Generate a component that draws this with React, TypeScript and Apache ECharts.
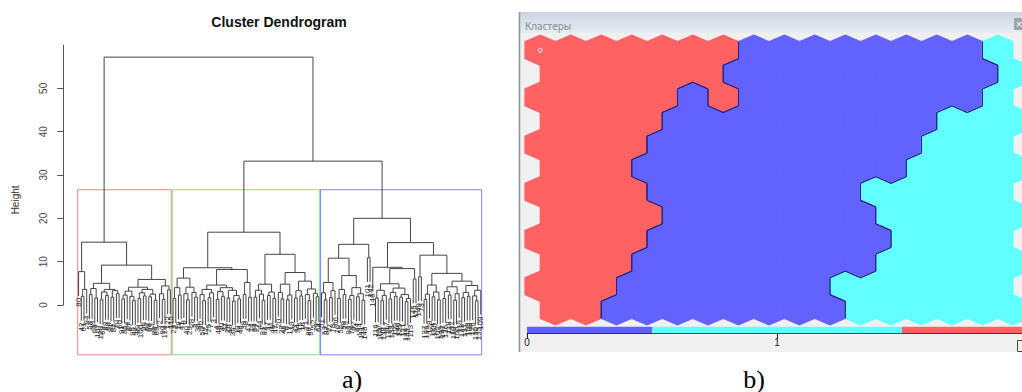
import React, { useEffect, useRef } from "react";
import * as echarts from "echarts";

// ---------- Dendrogram data (left panel) ----------
const chartTitle = "Cluster Dendrogram";
const yAxisName = "Height";
const heightTicks = [0, 10, 20, 30, 40, 50];
const heightAxisMax = 60;
const heightAxisMin = -11.5;
const hangHeight = 5.6;

const join = (a: string, b: string, h: number) => "(" + a + "," + b + ")" + h;

// sub-clusters, Newick-like: (*,*)h = two leaves merged at height h
const redLeft = "(*,((*,*)2.0,*)3.6)7.7";
const redA = "(((*,*)2.4,(*,*)1.6)3.8,(((*,*)1.2,(*,*)2.2)3.0,((*,*)1.8,(*,*)2.6)3.3)3.6)5.0";
const redB1 = "((((*,*)1.4,*)2.3,(*,(*,*)1.0)2.0)3.2,(((*,*)1.5,(*,*)2.1)2.8,((*,*)1.9,(*,*)1.1)2.5)3.6)4.1";
const redB2 = "((*,(*,*)1.3)2.6,(*,*)3.5)4.4";

const greenA1 = "(((*,*)1.5,(*,*)2.3)4.0,((*,(*,*)1.2)2.6,(*,(*,*)1.8)2.9)4.1)6.2";
const greenA2a = "(((*,(*,*)1.0)2.4,((*,*)1.7,*)2.8)3.6,(((*,*)1.3,(*,*)2.0)3.1,((*,*)1.6,((*,*)0.9,(*,*)1.4)2.2)3.4)4.0)4.6";
const greenA2b = "((*,*)2.4,(*,*)1.8)5.2";
const greenB1 = "(((*,*)1.8,(*,(*,*)1.1)2.5)3.4,((*,*)2.2,(*,*)1.5)3.0)4.8";
const greenB2a = "((*,(*,*)1.4)2.9,((*,*)1.2,*)2.3)4.8";
const greenB2b = "(((*,*)1.6,(*,*)2.1)3.3,((*,(*,*)1.0)2.4,(*,(*,*)1.9)2.7)3.7)5.5";

const blueA1a = "((*,(*,*)1.2)2.8,((*,*)1.7,*)3.3)5.2";
const blueA1b = "(((*,*)1.5,(*,*)2.4)3.6,(((*,*)1.3,*)2.2,((*,*)1.9,(*,*)1.1)2.6)4.0)6.8";
const blueA2 = "(*,*)10.9";
const blueB1a = "*";
const blueB1b1 = "(((*,*)1.6,((*,*)1.0,*)2.2)3.4,(((*,*)1.4,(*,*)2.0)2.9,((*,*)1.8,((*,*)0.8,*)1.5)2.4)3.9)4.9";
const blueB1b2 = "(*,*)6.0";
const blueB2a = "(*,*)6.5";
const blueB2b1 = "(((*,*)1.3,*)2.5,((*,*)1.9,(*,*)1.2)3.0)4.6";
const blueB2b2 = "((((*,*)1.5,(*,*)2.3)3.1,((*,*)1.1,*)2.6)4.2,(((*,*)1.7,(*,*)2.0)2.9,((*,(*,*)1.0)2.1,*)3.4)4.5)5.5";

const redTree = join(redLeft, join(redA, join(redB1, redB2, 5.9), 9.2), 14.5);
const greenTree = join(
  join(greenA1, join(greenA2a, greenA2b, 8.2), 8.6),
  join(greenB1, join(greenB2a, greenB2b, 7.5), 11.7),
  16.8
);
const blueTree = join(
  join(join(blueA1a, blueA1b, 10.8), blueA2, 14.0),
  join(join(blueB1a, join(blueB1b1, blueB1b2, 8.4), 8.7), join(blueB2a, join(blueB2b1, blueB2b2, 7.3), 11.5), 14.4),
  20.0
);
const fullTree = join(redTree, join(greenTree, blueTree, 33.2), 57.2);

const redLabels = [80, 42, 61, 94, 58, 99, 63, 107, 120, 69, 88, 54, 81, 82, 70, 60, 91, 85, 56, 67, 95, 97, 89, 100, 96, 62, 68, 83, 93, 65, 72, 90, 114, 122, 115];
const greenLabels = [23, 1, 18, 41, 8, 40, 29, 28, 5, 38, 36, 50, 12, 25, 7, 3, 4, 48, 30, 31, 26, 10, 35, 2, 13, 46, 39, 9, 43, 14, 24, 27, 44, 21, 32, 37, 11, 49, 47, 20, 22, 45, 6, 17, 19, 33, 34, 15, 16, 71, 86, 57, 52, 79, 64];
const blueLabels = [51, 53, 87, 77, 78, 66, 76, 55, 59, 75, 98, 74, 92, 84, 134, 111, 148, 101, 142, 146, 116, 137, 104, 138, 117, 129, 133, 105, 140, 125, 121, 144, 141, 113, 145, 112, 149, 73, 127, 139, 128, 124, 150, 102, 143, 147, 136, 118, 132, 110, 106, 119, 123, 131, 103, 108, 126, 130, 135, 109];
const boxColors = ["#ff7f7f", "#7fdf7f", "#7f7fff"];

// ---------- SOM map data (right panel) ----------
const panelTitle = "Кластеры";
const somRows = [
  "RRRRRRRBBBBBBBBC",
  "RRRRRRBBBBBBBBBC",
  "RRRRRBRBBBBBBBBC",
  "RRRRBBBBBBBBBCCC",
  "RRRRBBBBBBBBBCCC",
  "RRRBBBBBBBBBCCCC",
  "RRRRBBBBBBBCCCCC",
  "RRRRBBBBBBBCCCCC",
  "RRRRBBBBBBBBCCCC",
  "RRRBBBBBBBBCCCCC",
  "RRRBBBBBBBCCCCCC",
  "RRBBBBBBBBCCCCCC",
];
const clusterColors: Record<string, string> = { R: "#ff6262", B: "#6262ff", C: "#62ffff" };
const markedCell = [0, 0];
const scaleSegments: [number, number, string][] = [
  [0, 0.5, "B"],
  [0.5, 1.5, "C"],
  [1.5, 2.5, "R"],
];
const scaleTicks = [0, 1];

// ---------- helpers ----------
function parseTree(s: string) {
  let i = 0;
  const node = (): any => {
    if (s[i] === "(") {
      i++;
      const a = node();
      i++;
      const b = node();
      i++;
      const st = i;
      while (i < s.length && /[0-9.]/.test(s[i])) i++;
      return { h: parseFloat(s.slice(st, i)), kids: [a, b] };
    }
    i++;
    return { leaf: true };
  };
  return node();
}

function buildOption() {
  const root = parseTree(fullTree);
  const segments: number[][] = [];
  const leaves: number[][] = [];
  const heights: number[] = [];
  let n = 0;
  const place = (node: any, parentH: number) => {
    if (node.leaf) {
      n++;
      node.x = n;
      node.y = parentH - hangHeight;
      leaves.push([n, node.y]);
      return;
    }
    const [a, b] = node.kids;
    place(a, node.h);
    place(b, node.h);
    heights.push(node.h);
    node.x = (a.x + b.x) / 2;
    node.y = node.h;
    segments.push([a.x, node.h, b.x, node.h], [a.x, node.h, a.x, a.y], [b.x, node.h, b.x, b.y]);
  };
  place(root, root.h);
  const labels = [...redLabels, ...greenLabels, ...blueLabels];
  const nLeaves = labels.length;
  heights.sort((p, q) => q - p);
  const boxTop = (heights[1] + heights[2]) / 2;
  const sizes = [redLabels.length, greenLabels.length, blueLabels.length];
  const boxes: number[][] = [];
  let acc = 0;
  sizes.forEach((s, k) => {
    boxes.push([acc + 0.66, acc + s + 0.33, boxTop, k]);
    acc += s;
  });

  const hexData: number[][] = [];
  somRows.forEach((row, r) => {
    for (let c = 0; c < row.length; c++) hexData.push([c, r]);
  });
  const nRows = somRows.length;
  const nCols = somRows[0].length;
  const cellAt = (r: number, c: number) => (r < 0 || r >= nRows || c < 0 || c >= nCols ? null : somRows[r][c]);

  const font = "Liberation Sans";
  const unit = 260 / heightAxisMax;
  const hexW = 30.5;
  const hexGridW = 1022 - 525;
  const scaleW = 1022 - 527;
  const scaleUnit = 250;

  return {
    animation: false,
    textStyle: { fontFamily: font },
    grid: [
      { left: 75.9, top: 45, width: (nLeaves + 1) * 2.699, height: (heightAxisMax - heightAxisMin) * unit },
      { left: 63.3, top: 45, width: 10, height: 260 },
      { left: 525, top: 50.2, width: hexGridW, height: 23.6 * (nRows - 1) },
      { left: 527, top: 326.7, width: scaleW, height: 6.6 },
    ],
    xAxis: [
      { gridIndex: 0, type: "value", min: 0, max: nLeaves + 1, show: false },
      { gridIndex: 1, type: "value", min: 0, max: 1, show: false },
      { gridIndex: 2, type: "value", min: 0, max: hexGridW / hexW, show: false },
      {
        gridIndex: 3,
        type: "value",
        min: 0,
        max: scaleW / scaleUnit,
        axisLine: { show: true, lineStyle: { color: "#222", width: 1 } },
        axisTick: { show: true, length: 5, lineStyle: { color: "#222" }, customValues: scaleTicks },
        axisLabel: { color: "#222", fontSize: 10, margin: 4, customValues: scaleTicks },
        splitLine: { show: false },
      },
    ],
    yAxis: [
      {
        gridIndex: 0,
        type: "value",
        min: heightAxisMin,
        max: heightAxisMax,
        axisLine: { show: false },
        axisTick: { show: false },
        axisLabel: { show: false },
        splitLine: { show: false },
        name: yAxisName,
        nameLocation: "middle",
        nameGap: 55,
        nameTextStyle: { fontSize: 10, color: "#333", fontFamily: font },
      },
      {
        gridIndex: 1,
        type: "value",
        min: 0,
        max: heightAxisMax,
        position: "left",
        axisLine: { show: true, lineStyle: { color: "#555", width: 1 } },
        axisTick: { show: true, length: 6, lineStyle: { color: "#555" }, customValues: heightTicks },
        axisLabel: { rotate: 90, fontSize: 10, color: "#444", margin: 15, customValues: heightTicks },
        splitLine: { show: false },
      },
      { gridIndex: 2, type: "value", min: 0, max: nRows - 1, inverse: true, show: false },
      { gridIndex: 3, type: "value", min: 0, max: 1, show: false },
    ],
    graphic: [
      { type: "rect", z: -10, shape: { x: 519.5, y: 33, width: 510, height: 319 }, style: { fill: "#f0f0f0" } },
      {
        type: "rect",
        z: -10,
        shape: { x: 519.5, y: 12, width: 510, height: 21 },
        style: {
          fill: new echarts.graphic.LinearGradient(0, 0, 0, 1, [
            { offset: 0, color: "#cbd5e1" },
            { offset: 1, color: "#e8edf3" },
          ]),
        },
      },
      { type: "line", z: -9, shape: { x1: 519.5, y1: 12, x2: 519.5, y2: 352 }, style: { stroke: "#8a949e", lineWidth: 1.5 } },
      { type: "text", z: -9, x: 525, y: 25.5, style: { text: panelTitle, fontSize: 10, fill: "#8c8c8c", fontFamily: "Noto Sans", verticalAlign: "middle" } },
      { type: "rect", z: -9, shape: { x: 1014, y: 18, width: 10, height: 12 }, style: { fill: "#9ea4ab" } },
      { type: "text", z: -8, x: 1019, y: 24, style: { text: "×", fontSize: 10, fill: "#fff", align: "center", verticalAlign: "middle" } },
      { type: "rect", z: -9, shape: { x: 1017.5, y: 340.5, width: 8, height: 11 }, style: { fill: "#f6f2d8", stroke: "#444", lineWidth: 1 } },
      { type: "text", x: 279, y: 22, style: { text: chartTitle, fontSize: 14, fontWeight: "bold", fill: "#111", align: "center", verticalAlign: "middle", fontFamily: font } },
      { type: "text", x: 352, y: 379, style: { text: "a)", fontSize: 26, fill: "#000", align: "center", verticalAlign: "middle", fontFamily: "Liberation Serif" } },
      { type: "text", x: 754, y: 379, style: { text: "b)", fontSize: 26, fill: "#000", align: "center", verticalAlign: "middle", fontFamily: "Liberation Serif" } },
    ],
    series: [
      {
        type: "custom",
        name: "boxes",
        xAxisIndex: 0,
        yAxisIndex: 0,
        silent: true,
        z: 1,
        data: boxes,
        renderItem: (_p: any, api: any) => {
          const p0 = api.coord([api.value(0), api.value(2)]);
          const p1 = api.coord([api.value(1), heightAxisMin]);
          return {
            type: "rect",
            shape: { x: p0[0], y: p0[1], width: p1[0] - p0[0], height: p1[1] - p0[1] },
            style: { fill: "none", stroke: boxColors[api.value(3)], lineWidth: 1 },
          };
        },
      },
      {
        type: "custom",
        name: "dendrogram",
        xAxisIndex: 0,
        yAxisIndex: 0,
        silent: true,
        z: 2,
        data: segments,
        renderItem: (_p: any, api: any) => {
          const p0 = api.coord([api.value(0), api.value(1)]);
          const p1 = api.coord([api.value(2), api.value(3)]);
          return {
            type: "line",
            shape: { x1: p0[0], y1: p0[1], x2: p1[0], y2: p1[1] },
            style: { stroke: "#444", lineWidth: 1 },
          };
        },
      },
      {
        type: "custom",
        name: "leafLabels",
        xAxisIndex: 0,
        yAxisIndex: 0,
        silent: true,
        z: 3,
        data: leaves,
        renderItem: (p: any, api: any) => {
          const pt = api.coord([api.value(0), api.value(1)]);
          return {
            type: "text",
            x: pt[0],
            y: pt[1] + 2,
            rotation: Math.PI / 2,
            style: {
              text: String(labels[p.dataIndex]),
              fontSize: 8,
              fill: "#2a2a2a",
              align: "right",
              verticalAlign: "middle",
              fontFamily: font,
            },
          };
        },
      },
      {
        type: "custom",
        name: "som",
        xAxisIndex: 2,
        yAxisIndex: 2,
        silent: true,
        z: 2,
        data: hexData,
        renderItem: (_p: any, api: any) => {
          const c = api.value(0);
          const r = api.value(1);
          const odd = r % 2 === 1;
          const k = somRows[r][c];
          const ctr = api.coord([c + 0.5 + (odd ? 0.5 : 0), r]);
          const hw = api.size([1, 0])[0] / 2;
          const step = api.size([0, 1])[1];
          const peak = step * 0.642;
          const edge = step * 0.36;
          const cx = ctr[0];
          const cy = ctr[1];
          const pts = [
            [cx, cy - peak],
            [cx + hw, cy - edge],
            [cx + hw, cy + edge],
            [cx, cy + peak],
            [cx - hw, cy + edge],
            [cx - hw, cy - edge],
          ];
          const nb = [
            [r - 1, odd ? c + 1 : c],
            [r, c + 1],
            [r + 1, odd ? c + 1 : c],
            [r + 1, odd ? c : c - 1],
            [r, c - 1],
            [r - 1, odd ? c : c - 1],
          ];
          const children: any[] = [
            { type: "polygon", shape: { points: pts }, style: { fill: clusterColors[k], stroke: clusterColors[k], lineWidth: 1.2 } },
          ];
          nb.forEach((q, i) => {
            const other = cellAt(q[0], q[1]);
            if (other && other !== k) {
              const a = pts[i];
              const b = pts[(i + 1) % 6];
              children.push({
                type: "line",
                z2: 10,
                shape: { x1: a[0], y1: a[1], x2: b[0], y2: b[1] },
                style: { stroke: "#23237e", lineWidth: 1 },
              });
            }
          });
          if (c === markedCell[1] && r === markedCell[0]) {
            children.push({ type: "circle", z2: 11, shape: { cx, cy, r: 2 }, style: { fill: "none", stroke: "#fff", lineWidth: 1 } });
          }
          return { type: "group", children };
        },
      },
      {
        type: "custom",
        name: "scale",
        xAxisIndex: 3,
        yAxisIndex: 3,
        silent: true,
        z: 2,
        data: scaleSegments.map((s) => [s[0], s[1]]),
        renderItem: (p: any, api: any) => {
          const p0 = api.coord([api.value(0), 1]);
          const p1 = api.coord([Math.min(api.value(1), scaleW / scaleUnit), 0]);
          const col = clusterColors[scaleSegments[p.dataIndex][2]];
          return {
            type: "rect",
            shape: { x: p0[0], y: p0[1], width: p1[0] - p0[0], height: p1[1] - p0[1] },
            style: { fill: col },
          };
        },
      },
    ],
  };
}

export default function App() {
  const ref = useRef<HTMLDivElement>(null);
  useEffect(() => {
    if (!ref.current) return;
    const chart = echarts.init(ref.current, null, { renderer: "svg" });
    chart.setOption(buildOption() as any);
    return () => chart.dispose();
  }, []);
  return (
    <div
      ref={ref}
      style={{ position: "absolute", left: 0, top: 0, width: 1022, height: 392, background: "#fff" }}
    />
  );
}
